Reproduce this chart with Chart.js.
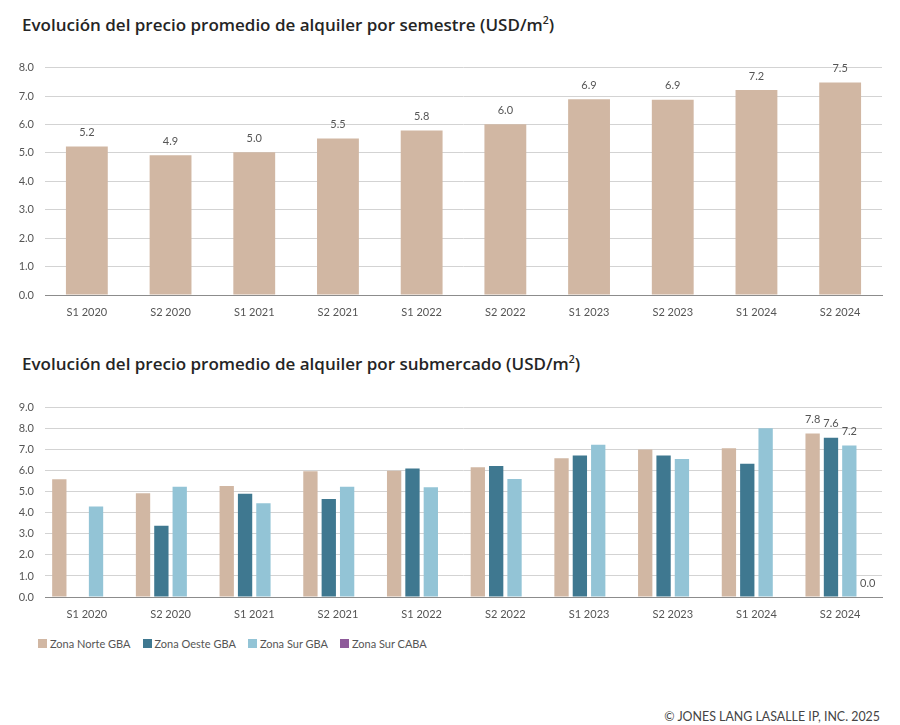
<!DOCTYPE html>
<html>
<head>
<meta charset="utf-8">
<script src="https://cdn.jsdelivr.net/npm/chart.js@4.4.1/dist/chart.umd.min.js"></script>
<style>
  html, body { margin:0; padding:0; background:#fff; }
  body { width:900px; height:725px; position:relative; overflow:hidden; font-family: Lato, "Noto Sans", sans-serif; }
  .title { position:absolute; left:22px; font-family:"Open Sans", Lato, sans-serif; font-size:17px; font-weight:600; color:#252525; white-space:nowrap; }
  .title sup { font-size:10.5px; }
  .box { position:absolute; left:0; }
  #legend { position:absolute; left:38px; top:637px; display:flex; font-size:11px; color:#555; }
  #legend .item { display:flex; align-items:center; margin-right:12px; }
  #legend .sw { width:9px; height:9px; margin-right:3px; }
  #footer { position:absolute; right:20px; top:709px; font-size:12.4px; color:#444; }
</style>
</head>
<body>
<div class="title" style="top:13px">Evolución del precio promedio de alquiler por semestre (USD/m<sup>2</sup>)</div>
<div class="box" style="top:50px;width:900px;height:280px"><canvas id="c1"></canvas></div>
<div class="title" style="top:352px">Evolución del precio promedio de alquiler por submercado (USD/m<sup>2</sup>)</div>
<div class="box" style="top:390px;width:900px;height:240px"><canvas id="c2"></canvas></div>
<div id="legend"></div>
<div id="footer">© JONES LANG LASALLE IP, INC. 2025</div>
<script>
// ---- data ----
const categories = ['S1 2020','S2 2020','S1 2021','S2 2021','S1 2022','S2 2022','S1 2023','S2 2023','S1 2024','S2 2024'];
const promedioSemestre = [5.22, 4.92, 5.02, 5.51, 5.79, 6.01, 6.89, 6.87, 7.21, 7.48];
const zonaNorteGBA = [5.60, 4.93, 5.27, 5.97, 6.00, 6.16, 6.59, 7.01, 7.07, 7.77];
const zonaOesteGBA = [null, 3.39, 4.91, 4.66, 6.11, 6.22, 6.72, 6.72, 6.33, 7.57];
const zonaSurGBA   = [4.30, 5.24, 4.46, 5.24, 5.21, 5.61, 7.24, 6.56, 8.02, 7.20];
const zonaSurCABA  = [null, null, null, null, null, null, null, null, null, 0.0];
const seriesNames = ['Zona Norte GBA','Zona Oeste GBA','Zona Sur GBA','Zona Sur CABA'];
const seriesColors = ['#D1B7A3','#3F7890','#93C4D6','#8E5A9A'];
const labelledCategories = ['S2 2024'];
const yTicksTop = [0,1,2,3,4,5,6,7,8];
const yTicksBottom = [0,1,2,3,4,5,6,7,8,9];

const FONT = 'Lato, "Noto Sans", sans-serif';

const valueLabels = {
  id: 'valueLabels',
  afterDatasetsDraw(chart, args, opts) {
    const ctx = chart.ctx;
    ctx.save();
    ctx.font = '11px ' + FONT;
    ctx.fillStyle = '#555';
    ctx.textAlign = 'center';
    ctx.textBaseline = 'middle';
    chart.data.datasets.forEach((ds, di) => {
      const meta = chart.getDatasetMeta(di);
      meta.data.forEach((bar, i) => {
        const v = ds.data[i];
        if (v === null || v === undefined) return;
        if (opts.only && !opts.only.includes(chart.data.labels[i])) return;
        ctx.fillText(v.toFixed(1), bar.x, bar.y - 14);
      });
    });
    ctx.restore();
  }
};

function axes(ticks, xh) {
  return {
    x: {
      grid: { display: false, drawTicks: false },
      border: { display: true, color: '#8c8c8c', width: 1 },
      ticks: { color: '#555', font: { family: FONT, size: 11 }, padding: 11, maxRotation: 0 },
      afterFit: s => { s.height = xh; }
    },
    y: {
      min: ticks[0], max: ticks[ticks.length - 1],
      afterBuildTicks: s => { s.ticks = ticks.map(v => ({ value: v })); },
      grid: { color: '#d3d3d3', drawTicks: false, lineWidth: 1 },
      border: { display: false },
      ticks: { color: '#555', font: { family: FONT, size: 11 }, padding: 11, callback: v => Number(v).toFixed(1) },
      afterFit: s => { s.width = 45; }
    }
  };
}

new Chart(document.getElementById('c1'), {
  type: 'bar',
  data: {
    labels: categories,
    datasets: [{ label: 'Promedio', data: promedioSemestre, backgroundColor: seriesColors[0], barPercentage: 0.5, categoryPercentage: 1.0 }]
  },
  options: {
    responsive: true, maintainAspectRatio: false, animation: false,
    layout: { padding: { top: 14, right: 18, left: 0, bottom: 0 } },
    plugins: { legend: { display: false }, tooltip: { enabled: false }, valueLabels: {} },
    scales: axes(yTicksTop, 35)
  },
  plugins: [valueLabels]
});

const subSeries = [zonaNorteGBA, zonaOesteGBA, zonaSurGBA, zonaSurCABA];
new Chart(document.getElementById('c2'), {
  type: 'bar',
  data: {
    labels: categories,
    datasets: subSeries.map((d, i) => ({
      label: seriesNames[i], data: d, backgroundColor: seriesColors[i],
      barPercentage: 0.78, categoryPercentage: 0.877
    }))
  },
  options: {
    responsive: true, maintainAspectRatio: false, animation: false,
    layout: { padding: { top: 14, right: 18, left: 0, bottom: 0 } },
    plugins: { legend: { display: false }, tooltip: { enabled: false }, valueLabels: { only: labelledCategories } },
    scales: axes(yTicksBottom, 33)
  },
  plugins: [valueLabels]
});

const lg = document.getElementById('legend');
seriesNames.forEach((n, i) => {
  const it = document.createElement('div');
  it.className = 'item';
  const sw = document.createElement('div');
  sw.className = 'sw';
  sw.style.background = seriesColors[i];
  const tx = document.createElement('span');
  tx.textContent = n;
  it.appendChild(sw); it.appendChild(tx);
  lg.appendChild(it);
});
</script>
</body>
</html>
